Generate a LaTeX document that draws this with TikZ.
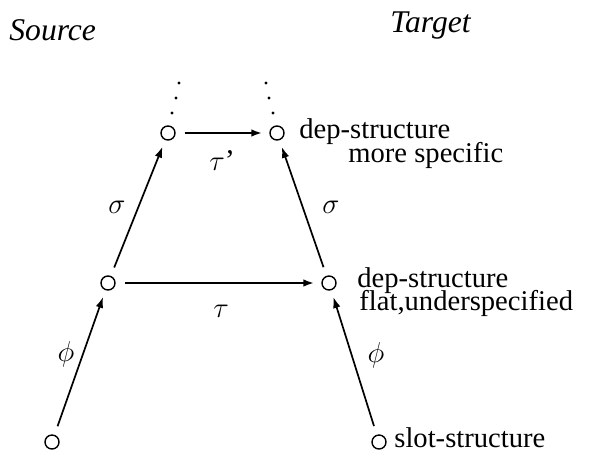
\documentclass[tikz,border=0pt]{standalone}
\usepackage{fontspec}
\setmainfont{Liberation Serif}
\usetikzlibrary{arrows.meta}
\tikzset{
  every node/.style={font=\fontsize{14.3pt}{17pt}\selectfont},
  head/.style={anchor=base west, inner sep=0pt, font=\fontsize{15.8pt}{18pt}\selectfont\itshape},
  pt/.style={circle, draw, line width=0.7pt, minimum size=7pt, inner sep=0pt},
  lbl/.style={anchor=base west, inner sep=0pt},
  mlbl/.style={inner sep=0pt, font=\fontsize{15pt}{18pt}\selectfont},
  arr/.style={-{Latex[length=5.5pt,width=3.8pt]}, line width=0.85pt, shorten <=4.5pt, shorten >=3.5pt},
  harr/.style={arr, line width=1.1pt},
  dotc/.style={fill=black}
}
\begin{document}
\begin{tikzpicture}[x=0.5pt,y=-0.5pt]
\useasboundingbox (0,0) rectangle (597,455);
% points
\node[pt] (bl) at (52,442) {};
\node[pt] (br) at (379,442) {};
\node[pt] (ml) at (108,283) {};
\node[pt] (mr) at (329,283) {};
\node[pt] (tl) at (168,133) {};
\node[pt] (tr) at (277,133) {};
% headings
\node[head] (src) at (9,40) {Source};
\node[head] (tgt) at (390,32) {Target};
% texts
\node[lbl] (t1) at (299,138) {dep-structure};
\node[lbl] (t2) at (348,162) {more specific};
\node[lbl] (m1) at (357,287) {dep-structure};
\node[lbl] (m2) at (359,310) {flat,underspecified};
\node[lbl] (b1) at (394,447) {slot-structure};
% connectors
\draw[arr] (bl) -- (ml);
\draw[arr] (br) -- (mr);
\draw[arr] (ml) -- (tl);
\draw[arr] (mr) -- (tr);
\draw[harr] (ml) -- (mr);
\draw[harr] (tl) -- (tr);
% labels
\node[mlbl, anchor=base] (s1) at (117,213) {$\sigma$};
\node[mlbl, anchor=base] (s2) at (331,213) {$\sigma$};
\node[mlbl, anchor=base west] (tp) at (209,170) {$\tau$'};
\node[mlbl, anchor=base] (ta) at (221,317) {$\tau$};
\node[mlbl] (p1) at (66,354) {$\phi$};
\node[mlbl] (p2) at (376,355) {$\phi$};
% dots
\fill[dotc] (179,83) circle (1.6);
\fill[dotc] (176,98) circle (1.6);
\fill[dotc] (172,113) circle (1.6);
\fill[dotc] (266,83) circle (1.6);
\fill[dotc] (269,98) circle (1.6);
\fill[dotc] (273,113) circle (1.6);
\end{tikzpicture}
\end{document}
